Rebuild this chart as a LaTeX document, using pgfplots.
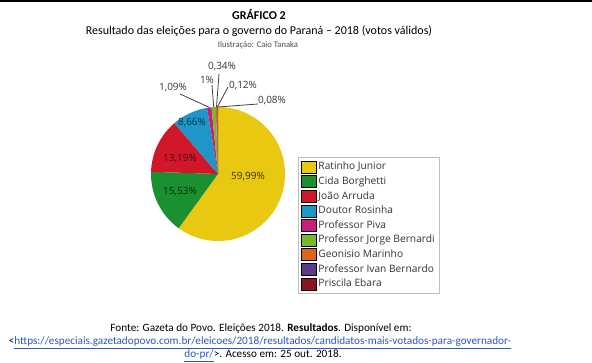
\documentclass[border=0pt]{standalone}
\usepackage{pgfplots}
\pgfplotsset{compat=1.18}
\usepackage{pgfplotstable}
\usepackage{fontspec}
\setmainfont{Carlito}
\newfontfamily\chartfont{Open Sans}
\definecolor{cRat}{HTML}{E8C810}
\definecolor{cCida}{HTML}{1A9030}
\definecolor{cJoao}{HTML}{D0182A}
\definecolor{cDout}{HTML}{1E96C8}
\definecolor{cPiva}{HTML}{C8207A}
\definecolor{cJorge}{HTML}{7AB828}
\definecolor{cGeo}{HTML}{E06418}
\definecolor{cIvan}{HTML}{5A3C8C}
\definecolor{cPri}{HTML}{8C1420}
\definecolor{linkblue}{HTML}{2858C0}

\pgfplotstableread{
value col
59.99 cRat
15.53 cCida
13.19 cJoao
8.66 cDout
1.09 cPiva
1.00 cJorge
0.34 cGeo
0.12 cIvan
0.08 cPri
}\piedata

\begin{document}
\begin{tikzpicture}[x=1pt,y=1pt]
\begin{axis}[x=1pt,y=1pt,xmin=0,xmax=592,ymin=0,ymax=363,
  hide axis, clip=false, anchor=south west, at={(0,0)},
  legend image code/.code={\fill[#1] (0pt,-6pt) rectangle (15pt,6pt);},
  legend cell align=left,
  legend style={at={(axis cs:298,206)}, anchor=north west,
    draw=black!25, line width=0.6pt,
    font=\chartfont\fontsize{10.2}{12}\selectfont, text=black!80,
    inner xsep=3pt, inner ysep=2.5pt, row sep=0pt,
    nodes={inner sep=1.55pt, text height=8.5pt, text depth=3pt},
    /tikz/every even column/.append style={column sep=0pt}},
]
\def\cum{0}
\pgfplotsforeachungrouped \i in {0,...,8}{%
  \pgfplotstablegetelem{\i}{value}\of\piedata \let\v\pgfplotsretval
  \pgfplotstablegetelem{\i}{col}\of\piedata \let\wcol\pgfplotsretval
  \pgfmathsetmacro\sa{90-3.6*\cum}%
  \pgfmathsetmacro\ea{90-3.6*(\cum+\v)}%
  \edef\temp{\noexpand\fill[\wcol] (axis cs:218,189) -- ([shift={(\sa:67pt)}]axis cs:218,189) arc[start angle=\sa, end angle=\ea, radius=67pt] -- cycle;}%
  \temp
  \pgfmathsetmacro\cum{\cum+\v}%
}
\addlegendimage{fill=cRat}\addlegendentry{Ratinho Junior}
\addlegendimage{fill=cCida}\addlegendentry{Cida Borghetti}
\addlegendimage{fill=cJoao}\addlegendentry{João Arruda}
\addlegendimage{fill=cDout}\addlegendentry{Doutor Rosinha}
\addlegendimage{fill=cPiva}\addlegendentry{Professor Piva}
\addlegendimage{fill=cJorge}\addlegendentry{Professor Jorge Bernardi}
\addlegendimage{fill=cGeo}\addlegendentry{Geonisio Marinho}
\addlegendimage{fill=cIvan}\addlegendentry{Professor Ivan Bernardo}
\addlegendimage{fill=cPri}\addlegendentry{Priscila Ebara}
\end{axis}
% top rule
\draw[line width=1.2pt] (0,362) -- (592,362);
% titles
\node[font=\fontsize{12}{14}\selectfont\bfseries] at (259,348) {GRÁFICO 2};
\node[font=\fontsize{12}{14}\selectfont] at (259,332) {Resultado das eleições para o governo do Paraná -- 2018 (votos válidos)};
\node[font=\fontsize{8.6}{10}\selectfont, text=black!70] at (258,318) {Ilustração: Caio Tanaka};
% pie labels
\begin{scope}[font=\chartfont\fontsize{10}{12}\selectfont]
\node[text=black!75!cRat] at (248,186) {59,99\%};
\node[text=black!70!cCida] at (180,171) {15,53\%};
\node[text=black!65!cJoao] at (180,204) {13,19\%};
\node[text=black!65!cDout] at (192,240) {8,66\%};
\node[text=black!80] at (173,275) {1,09\%};
\node[text=black!80] at (207,283) {1\%};
\node[text=black!80] at (222,296) {0,34\%};
\node[text=black!80] at (243,277) {0,12\%};
\node[text=black!80] at (272,262) {0,08\%};
\end{scope}
\begin{scope}[draw=black!75, line width=0.8pt]
\draw (180,269) -- (209.5,255.5);
\draw (212,278) -- (213.7,256);
\draw (219,289) -- (216.5,256);
\draw (228,276) -- (217.4,256);
\draw (258,259) -- (218,256);
\end{scope}
% source
\node[font=\fontsize{11.2}{13}\selectfont] at (261,34) {Fonte: Gazeta do Povo. Eleições 2018. \textbf{Resultados}. Disponível em:};
\node[font=\fontsize{11.2}{13}\selectfont] at (260,20) {<\textcolor{linkblue}{\underline{https://especiais.gazetadopovo.com.br/eleicoes/2018/resultados/candidatos-mais-votados-para-governador-}}};
\node[font=\fontsize{11.2}{13}\selectfont] at (263,7) {\textcolor{linkblue}{\underline{do-pr/}}>. Acesso em: 25 out. 2018.};
\pgfresetboundingbox
\path[use as bounding box] (0,0) rectangle (592,363);
\end{tikzpicture}
\end{document}
